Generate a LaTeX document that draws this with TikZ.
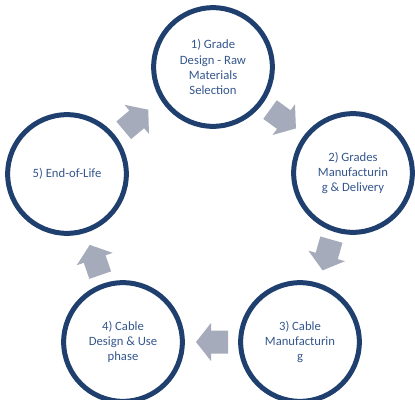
\documentclass[tikz,border=0pt]{standalone}
\usepackage{fontspec}
\setmainfont{Carlito}
\definecolor{ringblue}{RGB}{31,63,110}
\definecolor{labelblue}{RGB}{52,86,140}
\definecolor{arrowgray}{RGB}{166,171,187}
\tikzset{
  stage/.style={circle, draw=ringblue, line width=3.75pt, minimum size=89pt,
    inner sep=0pt, align=center, text=labelblue,
    font=\fontsize{9.5}{11.3}\selectfont},
  flowarrow/.style={fill=arrowgray, draw=none}
}
% block arrow pointing along local +x, centred on the origin
\newcommand{\blockarrow}[2]{%
  \path[flowarrow, shift={#1}, rotate=#2]
    (-16,-11.5) -- (1,-11.5) -- (1,-19) -- (16,0) -- (1,19) -- (1,11.5)
    -- (-16,11.5) -- cycle;}
\begin{document}
\begin{tikzpicture}[x=0.75pt, y=-0.75pt]
  \useasboundingbox (0,0) rectangle (415,400);

  \node[stage] (s1) at (213,67)  {1) Grade\\Design - Raw\\Materials\\Selection};
  \node[stage] (s2) at (353,173) {2) Grades\\Manufacturin\\g \& Delivery};
  \node[stage] (s3) at (300,342) {3) Cable\\Manufacturin\\g};
  \node[stage] (s4) at (123,342) {4) Cable\\Design \& Use\\phase};
  \node[stage] (s5) at (67,174)  {5) End-of-Life};

  \blockarrow{(283,119)}{-36}
  \blockarrow{(327,255)}{-106}
  \blockarrow{(212,342)}{180}
  \blockarrow{(95,260)}{109}
  \blockarrow{(136,120)}{40}
\end{tikzpicture}
\end{document}
